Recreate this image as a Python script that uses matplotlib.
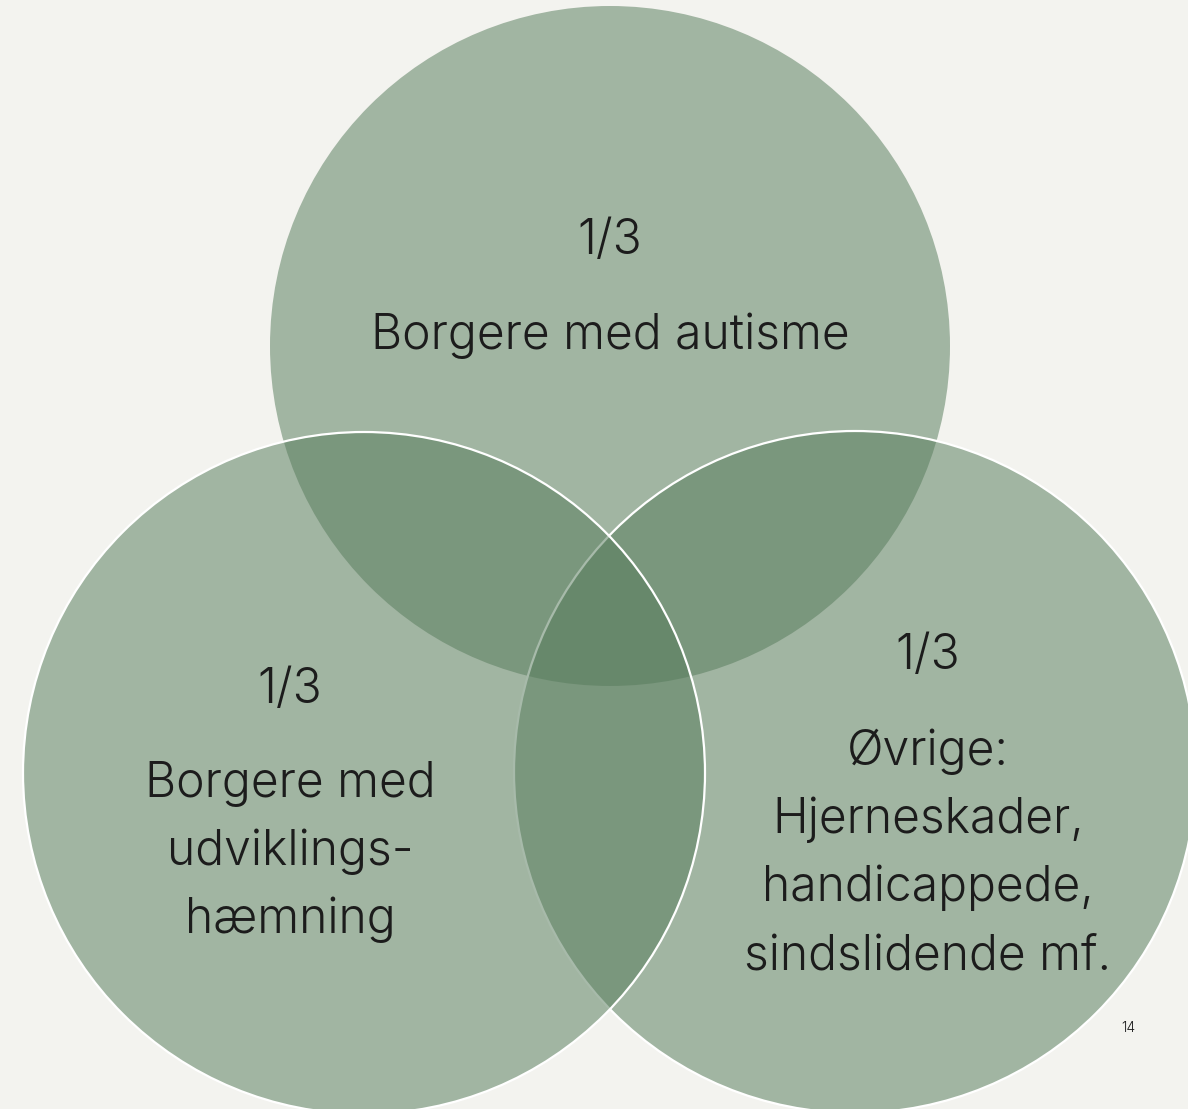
import matplotlib.pyplot as plt
from matplotlib.patches import Circle

# shares and labels for the three groups
groups = ["autisme", "udvikling", "ovrige"]
shares = ["1/3", "1/3", "1/3"]
labels = [
    ["Borgere med autisme"],
    ["Borgere med", "udviklings-", "hæmning"],
    ["Øvrige:", "Hjerneskader,", "handicappede,", "sindslidende mf."],
]
page_number = "14"

bg = "#F3F3EF"
fill = (0.34, 0.485, 0.36, 0.52)
txt = "#1c1c1c"

fig = plt.figure(figsize=(11.88, 11.09), dpi=100)
fig.patch.set_facecolor(bg)
ax = fig.add_axes([0, 0, 1, 1])
ax.set_xlim(0, 1188)
ax.set_ylim(1109, 0)
ax.set_aspect("equal")
ax.axis("off")

# top, right, left (draw order matters for the white outlines)
circ = {
    "autisme": ((610, 346), 340, "none"),
    "ovrige": ((855, 772), 341, "white"),
    "udvikling": ((364, 773), 341, "white"),
}
for g in ["autisme", "ovrige", "udvikling"]:
    (cx, cy), r, ec = circ[g]
    ax.add_patch(Circle((cx, cy), r, fc=fill, ec=ec, lw=1.6))

font = dict(family=["Inter", "DejaVu Sans"], weight=300, color=txt, ha="center", va="center")

# share + label text for each circle
anchors = {
    "autisme": (610, 241, 336),
    "udvikling": (290, 690, 784),
    "ovrige": (928, 656, 752),
}
step = 68
for g, s, lines in zip(groups, shares, labels):
    x, ys, yl = anchors[g]
    ax.text(x, ys, s, fontsize=34.6, **font)
    for i, line in enumerate(lines):
        ax.text(x, yl + i * step, line, fontsize=34.6, **font)

ax.text(1128, 1028, page_number, fontsize=10, **font)

fig.savefig("out.png", dpi=100, facecolor=bg)
